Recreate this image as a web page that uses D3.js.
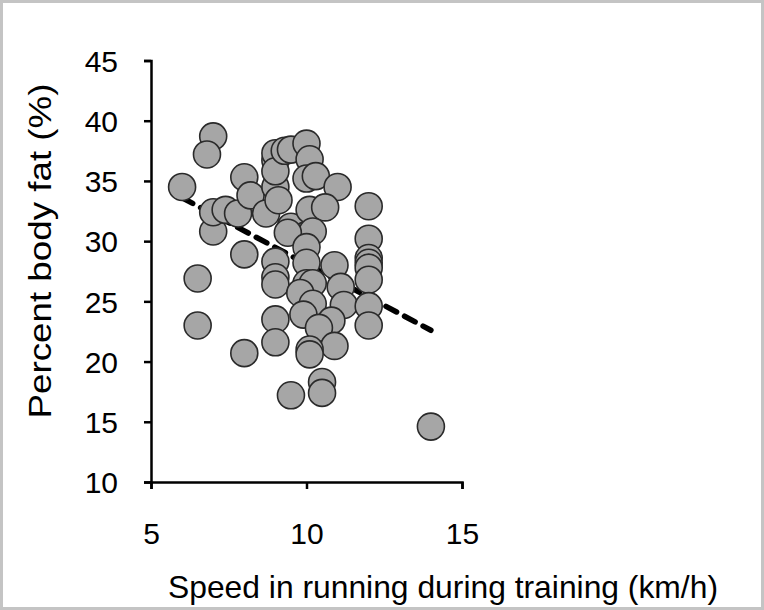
<!DOCTYPE html>
<html>
<head>
<meta charset="utf-8">
<script src="https://cdn.jsdelivr.net/npm/d3@7"></script>
<style>
  body { margin: 0; background: #fff; }
  svg { display: block; font-family: "Liberation Sans", Arial, sans-serif; }
</style>
</head>
<body>
<div id="container"></div>
<script>
/* CONSTANTS AND GLOBALS */
const width = 764;
const height = 610;

/* DATA */
const speed = [6.0, 7.0, 6.8, 6.5, 6.5, 7.0, 7.0, 7.4, 7.8, 8.0, 8.2, 8.7, 8.0, 8.0,
  9.0, 9.0, 9.0, 9.0, 9.3, 9.5, 10.0, 10.1, 10.0, 10.3, 11.0, 9.1, 9.5, 10.1, 10.6,
  12.0, 12.0, 10.0, 10.2, 9.4, 10.0, 9.0, 9.0, 9.0, 9.0, 9.0, 10.0, 10.0, 10.2, 9.8,
  10.9, 11.1, 11.2, 10.2, 9.9, 10.8, 10.4, 10.9, 10.1, 10.1, 10.5, 10.5, 9.5, 14.0,
  12.0, 12.0, 12.0, 12.0, 12.0, 12.0];
const bodyFat = [34.5, 38.7, 37.2, 26.9, 23.0, 30.8, 32.4, 32.6, 32.3, 35.3, 33.8, 32.3, 28.9, 20.7,
  34.5, 36.7, 37.3, 35.8, 37.5, 37.6, 38.1, 36.8, 35.2, 35.4, 34.5, 33.4, 31.2, 32.6, 32.8,
  32.9, 30.2, 30.5, 30.8, 30.7, 29.5, 28.3, 27.0, 26.4, 23.5, 21.6, 28.2, 26.5, 26.5, 25.7,
  28.0, 26.2, 24.7, 24.8, 23.9, 23.4, 22.8, 21.3, 21.0, 20.6, 18.3, 17.4, 17.2, 14.6,
  28.6, 28.2, 27.8, 26.8, 24.6, 23.0];
const trendX = [6, 14];
const trendY = [33.6, 22.6];
const xTicks = [5, 10, 15];
const yTicks = [10, 15, 20, 25, 30, 35, 40, 45];

const data = speed.map((s, i) => ({ speed: s, fat: bodyFat[i] }));

/* SCALES */
const xScale = d3.scaleLinear().domain([5, 15]).range([151, 462]);
const yScale = d3.scaleLinear().domain([10, 45]).range([482, 60.5]);

/* SVG */
const svg = d3.select("#container")
  .append("svg")
  .attr("width", width)
  .attr("height", height);

// frame
svg.append("rect")
  .attr("x", 1.5).attr("y", 1.5)
  .attr("width", width - 3).attr("height", height - 3)
  .attr("fill", "#fff")
  .attr("stroke", "#c4c4c4")
  .attr("stroke-width", 3);

// axes
const xAxisGroup = svg.append("g")
  .attr("transform", `translate(0, ${yScale(10)})`)
  .call(d3.axisBottom(xScale).tickValues(xTicks).tickSize(7).tickSizeOuter(7).tickPadding(14));

const yAxisGroup = svg.append("g")
  .attr("transform", `translate(${xScale(5)}, 0)`)
  .call(d3.axisLeft(yScale).tickValues(yTicks).tickSize(7).tickSizeOuter(7).tickPadding(26));

[xAxisGroup, yAxisGroup].forEach(g => {
  g.select(".domain").attr("stroke", "#000").attr("stroke-width", 2.5);
  g.selectAll(".tick line").attr("stroke", "#000").attr("stroke-width", 2.5);
  g.selectAll(".tick text")
    .attr("fill", "#000")
    .style("font-size", "30px")
    .style("font-family", "'Liberation Sans', Arial, sans-serif");
});
xAxisGroup.selectAll(".tick text").attr("dy", 41);
yAxisGroup.selectAll(".tick text").attr("dy", "0.36em");

// trend line
const line = d3.line().x(d => xScale(d[0])).y(d => yScale(d[1]));
svg.append("path")
  .datum(trendX.map((x, i) => [x, trendY[i]]))
  .attr("d", line)
  .attr("fill", "none")
  .attr("stroke", "#000")
  .attr("stroke-width", 5.5)
  .attr("stroke-dasharray", "12,9")
  .attr("stroke-linecap", "round");

// points
svg.selectAll("circle.pt")
  .data(data)
  .join("circle")
  .attr("class", "pt")
  .attr("cx", d => xScale(d.speed))
  .attr("cy", d => yScale(d.fat))
  .attr("r", 13.5)
  .attr("fill", "#a6a6a6")
  .attr("stroke", "#2a2a2a")
  .attr("stroke-width", 1.6);

// axis titles
svg.append("text")
  .attr("x", 443)
  .attr("y", 598)
  .attr("text-anchor", "middle")
  .attr("textLength", 550)
  .attr("lengthAdjust", "spacingAndGlyphs")
  .style("font-size", "32px")
  .text("Speed in running during training (km/h)");

svg.append("text")
  .attr("transform", "translate(51, 251) rotate(-90)")
  .attr("text-anchor", "middle")
  .attr("textLength", 335)
  .attr("lengthAdjust", "spacingAndGlyphs")
  .style("font-size", "32px")
  .text("Percent body fat (%)");
</script>
</body>
</html>
